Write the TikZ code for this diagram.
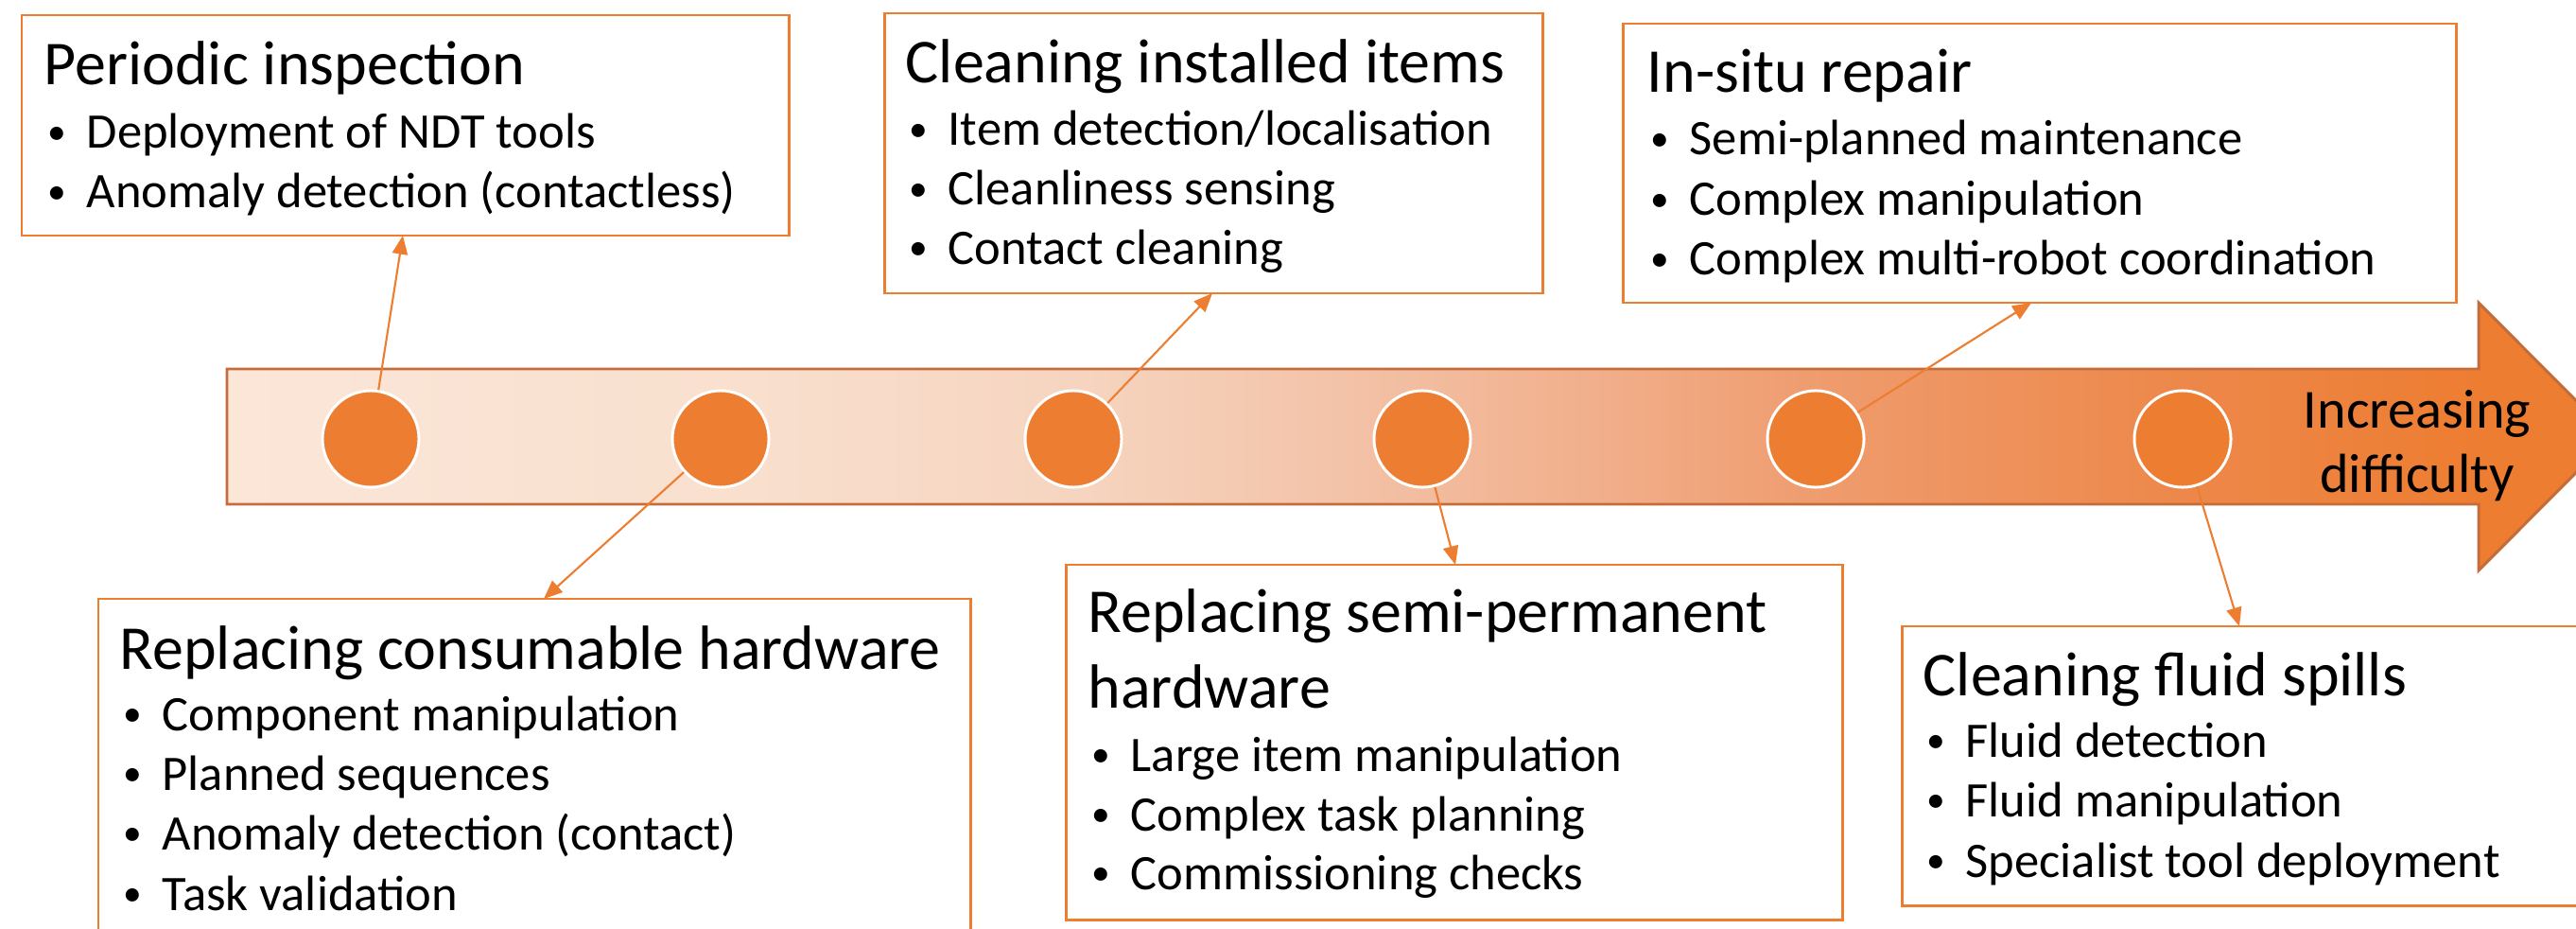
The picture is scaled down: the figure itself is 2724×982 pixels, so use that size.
\documentclass[tikz,border=0pt]{standalone}
\usepackage{fontspec}
\setmainfont{Carlito}
\usetikzlibrary{arrows.meta,fit}
\definecolor{orng}{RGB}{237,125,49}
\definecolor{arrline}{RGB}{196,108,58}
\definecolor{sa}{RGB}{251,230,216}
\definecolor{sb}{RGB}{249,224,207}
\definecolor{sc}{RGB}{246,213,192}
\definecolor{sd}{RGB}{243,196,170}
\definecolor{se}{RGB}{241,174,138}
\definecolor{sf}{RGB}{239,156,110}
\definecolor{sg}{RGB}{237,136,75}
\definecolor{sh}{RGB}{237,125,49}
\pgfdeclarehorizontalshading{bandshade}{100bp}{color(0bp)=(sa); color(25bp)=(sa); color(35.3bp)=(sb); color(42.7bp)=(sc); color(48bp)=(sd); color(53.9bp)=(se); color(58.3bp)=(sf); color(65.8bp)=(sg); color(72.2bp)=(sh); color(100bp)=(sh)}
\newcommand{\mybul}{\makebox[0.41cm][l]{\raisebox{0.09em}{\scalebox{0.75}{\textbullet}}}}
\begin{document}
\begin{tikzpicture}[x=0.01cm,y=-0.01cm,
  box/.style={draw=orng, line width=0.85pt, fill=white, inner sep=0pt},
  ttl/.style={anchor=base west, inner sep=0pt, font=\fontsize{18.77pt}{22.9pt}\selectfont},
  itm/.style={anchor=base west, inner sep=0pt, font=\fontsize{14.95pt}{17.9pt}\selectfont},
  inc/.style={anchor=base, inner sep=0pt, font=\fontsize{16.56pt}{19.4pt}\selectfont},
  dot/.style={circle, fill=orng, draw=white, line width=0.85pt, minimum size=1.02cm, inner sep=0pt},
  conn/.style={draw=orng, line width=0.6pt, -{Triangle[length=5.6pt,width=4.6pt]}}]
\useasboundingbox (0,0) rectangle (2724,982);
\clip (0,0) rectangle (2724,982);
\fill[white] (0,0) rectangle (2724,982);

% arrow band
\shadedraw[shading=bandshade, draw=arrline, line width=0.85pt]
  (240,390) -- (2621,390) -- (2621,320) -- (2762,461.5) -- (2621,603) -- (2621,533) -- (240,533) -- cycle;

% circles
\node[dot] (c1) at (392,464) {};
\node[dot] (c2) at (762,464) {};
\node[dot] (c3) at (1135,464) {};
\node[dot] (c4) at (1504,464) {};
\node[dot] (c5) at (1920,464) {};
\node[dot] (c6) at (2308,464) {};

\node[inc] (inc1) at (2556,452) {Increasing};
\node[inc] (inc2) at (2556,520) {difficulty};

% boxes
\node[box, fit={(23,16) (834,249)}] (b1) {};
\node[box, fit={(935,14) (1631,310)}] (b2) {};
\node[box, fit={(1716,25) (2597,320)}] (b3) {};
\node[box, fit={(104,633) (1026,1010)}] (b4) {};
\node[box, fit={(1127,597) (1948,972)}] (b5) {};
\node[box, fit={(2011,662) (2800,957)}] (b6) {};

% box 1
\node[ttl] (t1) at (46,90) {Periodic inspection};
\node[itm] (t1a) at (50,157) {\mybul Deployment of NDT tools};
\node[itm] (t1b) at (50,220) {\mybul Anomaly detection (contactless)};
% box 2
\node[ttl] (t2) at (957,88) {Cleaning installed items};
\node[itm] (t2a) at (961,154) {\mybul Item detection/localisation};
\node[itm] (t2b) at (961,217) {\mybul Cleanliness sensing};
\node[itm] (t2c) at (961,279) {\mybul Contact cleaning};
% box 3
\node[ttl] (t3) at (1741,98) {In-situ repair};
\node[itm] (t3a) at (1745,164) {\mybul Semi-planned maintenance};
\node[itm] (t3b) at (1745,228) {\mybul Complex manipulation};
\node[itm] (t3c) at (1745,291) {\mybul Complex multi-robot coordination};
% box 4
\node[ttl] (t4) at (126,707) {Replacing consumable hardware};
\node[itm] (t4a) at (130,772) {\mybul Component manipulation};
\node[itm] (t4b) at (130,835) {\mybul Planned sequences};
\node[itm] (t4c) at (130,898) {\mybul Anomaly detection (contact)};
\node[itm] (t4d) at (130,962) {\mybul Task validation};
% box 5
\node[ttl] (t5) at (1150,668) {Replacing semi-permanent};
\node[ttl] (t5x) at (1150,748) {hardware};
\node[itm] (t5a) at (1154,815) {\mybul Large item manipulation};
\node[itm] (t5b) at (1154,878) {\mybul Complex task planning};
\node[itm] (t5c) at (1154,940) {\mybul Commissioning checks};
% box 6
\node[ttl] (t6) at (2033,735) {Cleaning fluid spills};
\node[itm] (t6a) at (2037,800) {\mybul Fluid detection};
\node[itm] (t6b) at (2037,863) {\mybul Fluid manipulation};
\node[itm] (t6c) at (2037,927) {\mybul Specialist tool deployment};

% connector targets
\coordinate (a1) at (426,249);
\coordinate (a2) at (575,633);
\coordinate (a3) at (1282,310);
\coordinate (a4) at (1539,597);
\coordinate (a5) at (2148,320);
\coordinate (a6) at (2368,662);

\draw[conn] (c1) -- (a1);
\draw[conn] (c2) -- (a2);
\draw[conn] (c3) -- (a3);
\draw[conn] (c4) -- (a4);
\draw[conn] (c5) -- (a5);
\draw[conn] (c6) -- (a6);
\end{tikzpicture}
\end{document}
